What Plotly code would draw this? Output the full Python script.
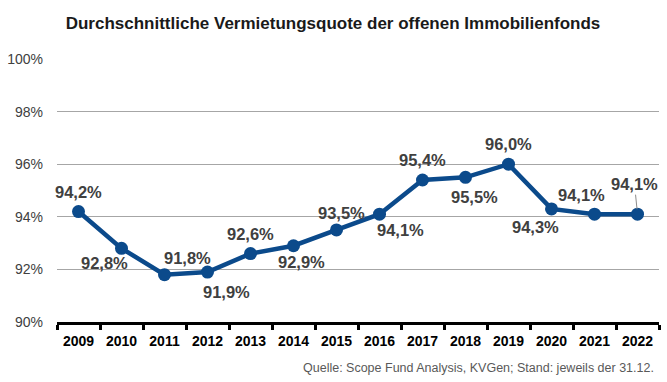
import plotly.graph_objects as go

years = ["2009", "2010", "2011", "2012", "2013", "2014", "2015", "2016",
         "2017", "2018", "2019", "2020", "2021", "2022"]
quote = [94.2, 92.8, 91.8, 91.9, 92.6, 92.9, 93.5, 94.1, 95.4, 95.5, 96.0, 94.3, 94.1, 94.1]
labels = ["94,2%", "92,8%", "91,8%", "91,9%", "92,6%", "92,9%", "93,5%", "94,1%",
          "95,4%", "95,5%", "96,0%", "94,3%", "94,1%", "94,1%"]
y_ticks = [90, 92, 94, 96, 98, 100]
y_ticktext = ["90%", "92%", "94%", "96%", "98%", "100%"]

title = "Durchschnittliche Vermietungsquote der offenen Immobilienfonds"
source = "Quelle: Scope Fund Analysis, KVGen; Stand: jeweils der 31.12."

# label offsets in pixels (x, y up-positive)
offsets = [(0, 20), (-17, -15), (23, 17), (19, -20), (0, 20), (8, -16), (5, 17),
           (21, -16), (0, 20), (9, -20), (0, 20), (-16, -18), (-13, 19), None]

blue = "#0B4A8B"
fig = go.Figure()
fig.add_trace(go.Scatter(
    x=years, y=quote, mode="lines+markers",
    line=dict(color=blue, width=4.5),
    marker=dict(color=blue, size=13),
    hoverinfo="skip", showlegend=False,
))

lab_font = dict(family="Liberation Sans, Arial, sans-serif", size=16.5, color="#404040")
annotations = []
for i, (v, lab) in enumerate(zip(quote, labels)):
    off = offsets[i]
    if off is None:
        annotations.append(dict(x=i, y=v, xref="x", yref="y", text="<b>" + lab + "</b>", showarrow=True,
                                ax=-3, ay=-30, arrowhead=0, arrowwidth=1, arrowcolor="#8c8c8c",
                                standoff=5, font=lab_font))
    else:
        annotations.append(dict(x=i, y=v, xref="x", yref="y", text="<b>" + lab + "</b>", showarrow=False,
                                xshift=off[0], yshift=off[1], font=lab_font))

annotations.append(dict(text=source, x=1, y=-0.175, xref="paper", yref="paper",
                        xanchor="right", yanchor="middle", showarrow=False,
                        xshift=-3,
                        font=dict(family="Liberation Sans, Arial, sans-serif", size=12.5, color="#595959")))

fig.update_layout(
    width=667, height=382,
    margin=dict(l=57, r=8, t=59, b=60),
    paper_bgcolor="white", plot_bgcolor="white",
    title=dict(text="<b>" + title + "</b>", x=333 / 667, xref="container", xanchor="center",
               y=1 - 23 / 382, yref="container", yanchor="middle",
               font=dict(family="Liberation Sans, Arial, sans-serif", size=17, color="#1a1a1a")),
    xaxis=dict(type="category", range=[-0.5, 13.5], showline=True, linecolor="black",
               linewidth=3, ticks="outside", tickson="boundaries", ticklen=5, tickwidth=3,
               tickcolor="black", showgrid=False, ticklabelstandoff=4,
               tickfont=dict(family="Liberation Sans, Arial, sans-serif", size=14, color="black", weight="bold")),
    yaxis=dict(range=[90, 100], tickvals=y_ticks, ticktext=y_ticktext, showgrid=True,
               gridcolor="#a6a6a6", gridwidth=1, zeroline=False, showline=False,
               ticks="", ticklabelstandoff=13,
               tickfont=dict(family="Liberation Sans, Arial, sans-serif", size=14, color="#404040")),
    annotations=annotations,
)

fig.write_html("out.html", config={"displayModeBar": False},
               post_script="document.body.style.margin='0';document.body.style.overflow='hidden';")
